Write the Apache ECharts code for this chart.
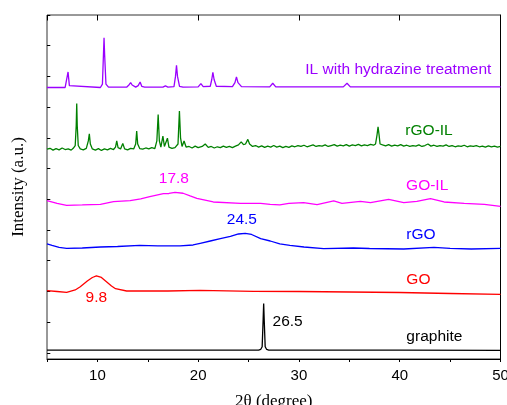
<!DOCTYPE html>
<html>
<head>
<meta charset="utf-8">
<script src="https://cdn.jsdelivr.net/npm/echarts@6/dist/echarts.min.js"></script>
<style>html,body{margin:0;padding:0;background:#fff}#c{width:507px;height:405px}</style>
</head>
<body>
<div id="c"></div>
<script>
// 2θ (degree) vs stacked intensity (offset, a.u.)
const graphite = [[5,0.29],[20,0.29],[26.0,0.29],[26.2,0.31],[26.35,0.4],[26.45,1.3],[26.5,1.81],[26.55,1.3],[26.65,0.4],[26.8,0.31],[27.0,0.29],[40,0.29],[50,0.28]];
const GO = [[5,2.224],[6,2.198],[6.95,2.172],[7.8,2.247],[8.3,2.354],[9.0,2.54],[9.5,2.654],[9.9,2.703],[10.4,2.654],[10.9,2.517],[11.4,2.377],[11.8,2.289],[12.9,2.214],[17,2.214],[20.2,2.237],[25.5,2.204],[30,2.198],[40,2.165],[45,2.133],[50,2.107]];
const rGO = [[5,3.745],[5.5,3.696],[6.2,3.631],[6.95,3.605],[8.5,3.614],[10.3,3.647],[12,3.663],[14.2,3.702],[16,3.686],[18.2,3.68],[19.5,3.712],[20.2,3.767],[21.2,3.842],[22.2,3.917],[23.2,3.989],[24.0,4.07],[24.67,4.093],[25.3,4.054],[26.2,3.917],[27.15,3.842],[28.1,3.745],[29.1,3.702],[30.5,3.647],[32.45,3.592],[35.4,3.614],[37,3.598],[40.4,3.582],[43.4,3.637],[45,3.605],[47.1,3.582],[50,3.605]];
const GO_IL = [[5,5.155],[6,5.064],[6.95,5.005],[8.5,5.015],[10.3,5.037],[11.6,5.122],[13.25,5.155],[14.3,5.21],[15.2,5.285],[16.55,5.383],[17.1,5.389],[17.7,5.428],[18.5,5.396],[19.2,5.308],[19.87,5.233],[21.5,5.112],[24.2,5.07],[26.2,5.07],[27.15,5.037],[28.1,5.015],[29.0,5.064],[30.46,5.09],[31.8,5.025],[33.45,5.145],[34.27,5.07],[36.1,5.135],[37.1,5.09],[38.9,5.2],[40.4,5.09],[41.7,5.135],[43.05,5.22],[44.4,5.112],[46.4,5.07],[48.4,5.037],[50,4.972]];
const rGO_IL = [[5.0,6.83],[5.3,6.86],[5.6,6.80],[5.9,6.85],[6.2,6.81],[6.5,6.87],[6.8,6.82],[7.1,6.84],[7.4,6.80],[7.6,6.86],[7.8,6.95],[7.9,7.6],[7.95,8.32],[8.0,7.6],[8.1,6.95],[8.3,6.84],[8.6,6.81],[8.9,6.86],[9.1,7.1],[9.2,7.33],[9.3,7.0],[9.5,6.84],[9.8,6.80],[10.1,6.85],[10.4,6.79],[10.7,6.84],[11.0,6.81],[11.3,6.86],[11.6,6.82],[11.8,6.9],[11.92,7.10],[12.05,6.88],[12.3,6.84],[12.52,7.02],[12.7,6.84],[13.0,6.81],[13.3,6.86],[13.6,6.84],[13.8,7.0],[13.9,7.42],[14.0,7.0],[14.2,6.85],[14.5,6.83],[14.8,6.87],[15.1,6.84],[15.4,6.88],[15.7,6.85],[15.9,7.1],[16.03,7.96],[16.15,7.1],[16.3,6.9],[16.5,7.26],[16.65,6.92],[16.8,6.89],[16.95,7.19],[17.1,6.9],[17.4,6.86],[17.7,6.88],[18.0,7.0],[18.14,8.07],[18.25,7.2],[18.4,6.92],[18.6,7.1],[18.8,6.9],[19.1,6.92],[19.4,6.87],[19.7,6.93],[20.0,6.88],[20.4,6.92],[20.7,7.0],[21.0,6.89],[21.3,6.92],[21.6,6.87],[21.9,6.91],[22.2,6.88],[22.5,6.93],[22.8,6.89],[23.1,6.92],[23.4,6.88],[23.7,6.93],[24.0,6.97],[24.27,7.07],[24.5,6.98],[24.7,7.0],[24.93,7.15],[25.1,7.0],[25.4,6.92],[25.7,6.95],[26.0,6.9],[26.3,6.94],[26.6,6.89],[26.9,6.93],[27.2,6.90],[27.5,6.95],[27.8,6.9],[28.1,6.93],[28.4,6.88],[28.7,6.92],[29.0,6.89],[29.3,6.94],[29.6,6.91],[29.9,6.95],[30.2,6.92],[30.5,6.96],[30.8,6.91],[31.1,6.94],[31.4,6.97],[31.7,6.92],[32.0,6.95],[32.3,6.93],[32.6,6.97],[32.9,6.92],[33.2,6.95],[33.5,6.98],[33.8,6.93],[34.1,6.96],[34.4,6.94],[34.7,6.98],[35.0,6.93],[35.3,6.97],[35.6,6.95],[35.9,6.99],[36.2,6.94],[36.5,6.97],[36.8,6.95],[37.1,6.99],[37.4,6.96],[37.6,7.0],[37.75,7.3],[37.85,7.56],[37.95,7.3],[38.05,7.0],[38.3,6.97],[38.6,6.94],[38.9,6.98],[39.2,6.93],[39.5,6.96],[39.8,6.94],[40.1,6.98],[40.4,6.93],[40.7,6.96],[41.0,6.92],[41.3,6.95],[41.6,6.93],[41.9,6.97],[42.2,6.92],[42.5,6.95],[42.8,7.0],[43.1,6.93],[43.4,6.96],[43.7,6.92],[44.0,6.95],[44.3,6.93],[44.6,6.97],[44.9,6.92],[45.2,6.95],[45.5,6.91],[45.8,6.94],[46.1,6.92],[46.4,6.96],[46.7,6.91],[47.0,6.94],[47.3,6.92],[47.6,6.95],[47.9,6.91],[48.2,6.93],[48.5,6.9],[48.8,6.94],[49.1,6.91],[49.4,6.93],[49.7,6.9],[50.0,6.92]];
const IL = [[5,8.84],[6.8,8.84],[6.95,8.9],[7.09,9.345],[7.22,8.9],[7.4,8.84],[10.3,8.84],[10.5,8.95],[10.6,9.9],[10.66,10.46],[10.72,9.9],[10.85,8.95],[11.1,8.85],[12.9,8.85],[13.15,8.93],[13.3,9.0],[13.45,8.92],[13.8,8.85],[14.05,8.9],[14.24,9.02],[14.4,8.88],[14.7,8.85],[16.5,8.85],[16.75,8.89],[17.0,8.85],[17.6,8.87],[17.75,9.2],[17.85,9.56],[17.95,9.2],[18.15,8.88],[18.5,8.85],[20.0,8.86],[20.27,8.965],[20.5,8.87],[21.2,8.88],[21.35,9.1],[21.46,9.336],[21.58,9.1],[21.8,8.88],[23.4,8.87],[23.65,9.0],[23.8,9.183],[23.95,9.0],[24.3,8.87],[27.1,8.86],[27.4,8.977],[27.7,8.86],[34.4,8.86],[34.77,8.977],[35.1,8.86],[50,8.857]];

const seriesNames = ['graphite','GO','rGO','GO-IL','rGO-IL','IL with hydrazine treatment'];
const seriesData = [graphite, GO, rGO, GO_IL, rGO_IL, IL];
const seriesColors = ['#000000','#ff0000','#0000ff','#ff00ff','#008000','#9b00ff'];

// Labels: text, 2θ, offset, colour index, alignment
const labelTexts = ['IL with hydrazine treatment','rGO-IL','GO-IL','rGO','GO','graphite','26.5','9.8','24.5','17.8'];
const labelX = [30.63, 40.56, 40.63, 40.66, 40.66, 40.66, 27.38, 9.9, 24.34, 17.59];
const labelY = [9.41, 7.42, 5.64, 4.04, 2.57, 0.71, 1.21, 2.01, 4.53, 5.86];
const labelColorIdx = [5, 4, 3, 2, 1, 0, 0, 1, 2, 3];
const labelAlign = ['left','left','left','left','left','left','left','center','center','center'];

const xTickLabels = ['10','20','30','40','50'];

const chart = echarts.init(document.getElementById('c'), null, {renderer: 'canvas'});
const sans = 'Liberation Sans, Arial, sans-serif';
const serif = 'Liberation Serif, Times New Roman, serif';

chart.setOption({
  animation: false,
  backgroundColor: '#fff',
  grid: {left: 47, right: 6.5, top: 15, bottom: 46, containLabel: false, outerBoundsMode: 'none',
         show: true, borderColor: '#333', borderWidth: 1, backgroundColor: 'transparent'},
  xAxis: [
    {type: 'value', min: 5, max: 50, interval: 5, position: 'bottom',
     axisLine: {show: true, lineStyle: {color: '#000', width: 1}},
     axisTick: {show: true, inside: false, length: 3, lineStyle: {color: '#000'}},
     axisLabel: {show: false}, splitLine: {show: false},
     name: '2θ (degree)', nameLocation: 'middle', nameGap: 34,
     nameTextStyle: {fontFamily: serif, fontSize: 17, color: '#000'}},
    {type: 'value', min: 0, max: 45, interval: 10, inverse: true, position: 'bottom',
     axisLine: {show: false},
     axisTick: {show: true, inside: false, length: 5.5, lineStyle: {color: '#000'}},
     axisLabel: {show: true, margin: 9, fontFamily: sans, fontSize: 15, color: '#000',
       formatter: v => xTickLabels[4 - Math.round(v / 10)]},
     splitLine: {show: false}}
  ],
  yAxis: [
    {type: 'value', min: 0, max: 11.2, position: 'left',
     axisLine: {show: true, lineStyle: {color: '#000', width: 1}},
     axisTick: {show: false}, axisLabel: {show: false}, splitLine: {show: false},
     name: 'Intensity (a.u.)', nameLocation: 'middle', nameGap: 20, nameRotate: 90,
     nameTextStyle: {fontFamily: serif, fontSize: 17, color: '#000'}},
    {type: 'value', min: 0, max: 11.2, interval: 1, inverse: true, position: 'left',
     axisLine: {show: false},
     axisTick: {show: true, inside: true, length: 3.3, lineStyle: {color: '#000'}},
     axisLabel: {show: false}, splitLine: {show: false}}
  ],
  series: seriesData.map((d, i) => ({
    name: seriesNames[i], type: 'line', data: d, xAxisIndex: 0, yAxisIndex: 0,
    showSymbol: false, symbol: 'none', smooth: false, clip: true,
    lineStyle: {color: seriesColors[i], width: 1.3},
    emphasis: {disabled: true}
  }))
});

const g = labelTexts.map((t, i) => {
  const p = chart.convertToPixel({xAxisIndex: 0, yAxisIndex: 0}, [labelX[i], labelY[i]]);
  return {type: 'text', x: p[0], y: p[1], silent: true,
    style: {text: t, fill: seriesColors[labelColorIdx[i]], font: '15.5px ' + sans,
            textAlign: labelAlign[i], textVerticalAlign: 'middle'}};
});
chart.setOption({graphic: g});
</script>
</body>
</html>
